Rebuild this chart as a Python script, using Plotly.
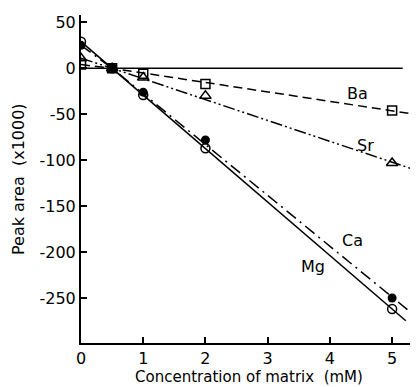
import numpy as np
import plotly.graph_objects as go

conc = [0, 0.5, 1, 2, 5]
mg = [29, 0, -29, -87, -262]
ca = [25, 0, -26, -78, -250]
sr = [11, 0, -10, -30, -103]
ba = [4, 0, -6, -17, -46]
line_end = {"Mg": 5.22, "Ca": 5.32, "Sr": 5.42, "Ba": 5.42}

yticks = [50, 0, -50, -100, -150, -200, -250]
ytext = ["50", "0", "-50", "-100", "-150", "-200", "-250"]
xticks = [0, 1, 2, 3, 4, 5]

FONT = "DejaVu Sans"
fig = go.Figure()

series = [
    ("Mg", mg, "solid", dict(symbol="circle-open", size=9, color="black", line=dict(width=1.5))),
    ("Ca", ca, "12px,5px,2px,5px", dict(symbol="circle", size=9, color="black")),
    ("Sr", sr, "12px,3px,2px,3px,2px,3px", dict(symbol="triangle-up-open", size=10, color="black", line=dict(width=1.5))),
    ("Ba", ba, "9px,5px", dict(symbol="square-open", size=9, color="black", line=dict(width=1.5))),
]

for name, ys, dash, mk in series:
    xs = np.array(conc[1:], float)
    yv = np.array(ys[1:], float)
    k, b = np.polyfit(xs, yv, 1)
    xe = line_end[name]
    lx = [conc[0], conc[1], xe]
    ly = [ys[0], ys[1], k * xe + b]
    fig.add_trace(go.Scatter(x=lx, y=ly, mode="lines",
                             line=dict(color="black", width=1.5, dash=dash),
                             showlegend=False, hoverinfo="skip"))
    fig.add_trace(go.Scatter(x=conc, y=ys, mode="markers", marker=mk,
                             showlegend=False, name=name))

# zero reference line
fig.add_shape(type="line", x0=0, x1=5.17, y0=0, y1=0, xref="x", yref="y",
              line=dict(color="black", width=1.5))

labels = [("Ba", 4.44, -27), ("Sr", 4.57, -84), ("Ca", 4.36, -187), ("Mg", 3.73, -216)]
for t, x, y in labels:
    fig.add_annotation(x=x, y=y, text=t, showarrow=False,
                       font=dict(family=FONT, size=16, color="black"))

# y-axis title as rotated annotation for exact placement
fig.add_annotation(x=0, y=0.5, xref="paper", yref="paper", xanchor="center",
                   yanchor="middle", xshift=-63, textangle=-90, showarrow=False,
                   text="Peak area  (x1000)",
                   font=dict(family=FONT, size=16, color="black"))

# page body has an 8px margin, so the figure is sized to the remaining window
fig.update_layout(
    width=410, height=379,
    margin=dict(l=73, r=1, t=7, b=44),
    plot_bgcolor="white", paper_bgcolor="white",
    font=dict(family=FONT, size=15, color="black"),
)
fig.update_xaxes(range=[0, 5.4], tickvals=xticks, ticks="inside", ticklen=6,
                 tickwidth=1.5, tickcolor="black", showline=True, linecolor="black",
                 linewidth=2, showgrid=False, zeroline=False, mirror=False,
                 automargin=False, tickfont=dict(size=16),
                 title=dict(text="Concentration of matrix  (mM)", standoff=2,
                            font=dict(size=15)))
fig.update_yaxes(range=[-299, 58], tickvals=yticks, ticktext=ytext, ticks="inside",
                 ticklen=6, tickwidth=1.5, tickcolor="black", showline=True,
                 linecolor="black", linewidth=2, showgrid=False, zeroline=False,
                 automargin=False, tickfont=dict(size=16))

fig.write_html("out.html")
